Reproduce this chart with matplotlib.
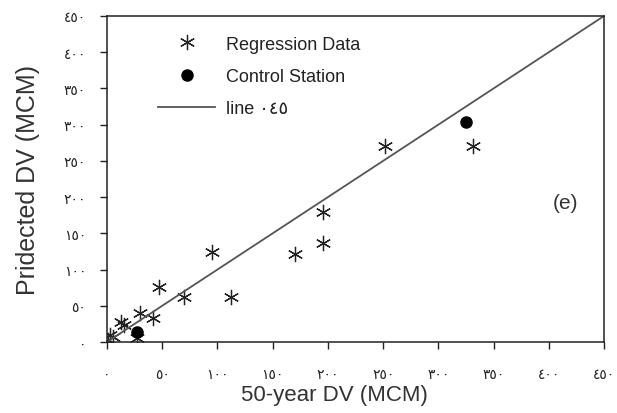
import matplotlib
matplotlib.use('Agg')
import matplotlib.pyplot as plt

plt.rcParams['font.family'] = ['Liberation Sans', 'DejaVu Sans']

# regression data (50-year DV, predicted DV), MCM
reg_x = [1, 2.7, 5.4, 12.7, 15.4, 27, 30, 41.7, 47, 70, 95, 112, 170, 195.7, 195.7, 252, 331.5]
reg_y = [3, 9.7, 7, 27.8, 23.6, 5.5, 40, 33, 76, 62.5, 123.6, 62.5, 121, 179, 136, 271, 271]

ctrl_x = [27, 325]
ctrl_y = [14, 304]

line_x = [0, 450]
line_y = [0, 450]

ticks = [0, 50, 100, 150, 200, 250, 300, 350, 400, 450]
tick_labels = ['٠', '٥٠', '١٠٠', '١٥٠', '٢٠٠', '٢٥٠', '٣٠٠', '٣٥٠', '٤٠٠', '٤٥٠']

fig = plt.figure(figsize=(6.17, 4.14), dpi=100)
ax = fig.add_axes([0.1734, 0.1715, 0.8056, 0.7875])

ax.plot(reg_x, reg_y, linestyle='none', marker=(6, 2, 0), markersize=11,
        markeredgewidth=0.9, color='#222222', label='Regression Data')
ax.plot(ctrl_x, ctrl_y, linestyle='none', marker='o', markersize=8,
        color='black', label='Control Station')
ax.plot(line_x, line_y, color='#555555', linewidth=1.3, label='line ٠٤٥')

ax.set_xlim(0, 450)
ax.set_ylim(0, 450)
ax.set_xticks(ticks)
ax.set_yticks(ticks)
ax.set_xticklabels(tick_labels, fontsize=10, family=['DejaVu Sans'])
ax.set_yticklabels(tick_labels, fontsize=10, family=['DejaVu Sans'])
ax.tick_params(direction='out', length=5, width=1, pad=13, colors='#222222')
ax.tick_params(axis='y', pad=10)

for s in ax.spines.values():
    s.set_linewidth(1.1)
    s.set_color('#222222')

ax.set_xlabel('50-year DV (MCM)', fontsize=16, color='#333333')
ax.xaxis.set_label_coords(0.457, -0.13)
ax.set_ylabel('Pridected DV (MCM)', fontsize=18, color='#333333')
ax.yaxis.set_label_coords(-0.135, 0.5)

ax.text(415, 193, '(e)', fontsize=15, ha='center', va='center', color='#333333')

leg = ax.legend(loc='upper left', bbox_to_anchor=(0.103, 0.94), frameon=False,
                fontsize=13, handlelength=3.15, handletextpad=0.6,
                labelspacing=0.85, borderaxespad=0, borderpad=0)
for t in leg.get_texts():
    t.set_color('#222222')

fig.savefig('out.png', dpi=100)
